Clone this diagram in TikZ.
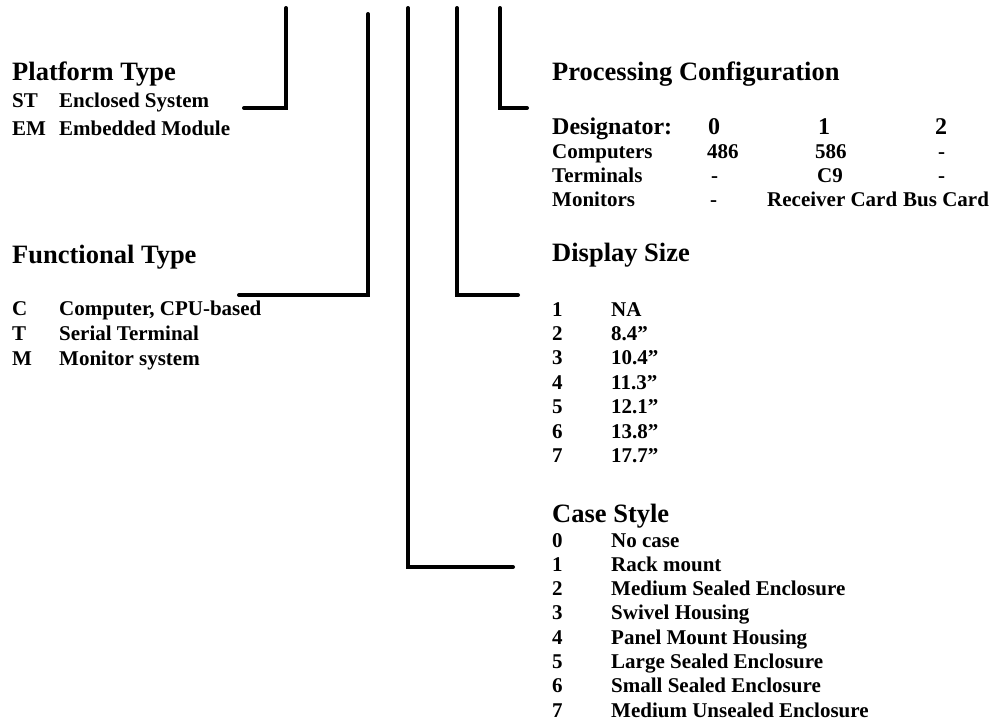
\documentclass[tikz,border=0pt]{standalone}
\usepackage{fontspec}
\setmainfont{Liberation Serif}
\newcommand{\dq}{\symbol{34}}
\begin{document}
\begin{tikzpicture}[x=1pt,y=-1pt,
  hdr/.style={anchor=base west,inner sep=0pt,font=\fontsize{26.5}{30}\selectfont\bfseries},
  des/.style={anchor=base west,inner sep=0pt,font=\fontsize{24}{28}\selectfont\bfseries},
  itm/.style={anchor=base west,inner sep=0pt,font=\fontsize{21}{24}\selectfont\bfseries},
  lead/.style={line width=4pt,line cap=round,line join=miter}]
\useasboundingbox (0,0) rectangle (1006,723);
% leader lines
\coordinate (t1) at (286,8);   \coordinate (e1) at (244,108);
\coordinate (t2) at (368,14);  \coordinate (e2) at (239,295);
\coordinate (t3) at (408,8);   \coordinate (e3) at (513,567);
\coordinate (t4) at (457,8);   \coordinate (e4) at (518,295);
\coordinate (t5) at (500,8);   \coordinate (e5) at (527,108);
\draw[lead] (t1) |- (e1);
\draw[lead] (t2) |- (e2);
\draw[lead] (t3) |- (e3);
\draw[lead] (t4) |- (e4);
\draw[lead] (t5) |- (e5);
% Platform Type
\node[hdr] (pt) at (12,80) {Platform Type};
\node[itm] (pt1a) at (12,107) {ST};
\node[itm] (pt1b) at (59,107) {Enclosed System};
\node[itm] (pt2a) at (12,135) {EM};
\node[itm] (pt2b) at (59,135) {Embedded Module};
% Functional Type
\node[hdr] (ft) at (12,263) {Functional Type};
\node[itm] (ft1a) at (12,315) {C};
\node[itm] (ft1b) at (59,315) {Computer, CPU-based};
\node[itm] (ft2a) at (12,340) {T};
\node[itm] (ft2b) at (59,340) {Serial Terminal};
\node[itm] (ft3a) at (12,365) {M};
\node[itm] (ft3b) at (59,365) {Monitor system};
% Processing Configuration
\node[hdr] (pc) at (552,80) {Processing Configuration};
\node[des] (d0) at (552,134) {Designator:};
\node[des] (d1) at (708,134) {0};
\node[des] (d2) at (818,134) {1};
\node[des] (d3) at (935,134) {2};
\node[itm] (c0) at (552,158) {Computers};
\node[itm] (c1) at (707,158) {486};
\node[itm] (c2) at (815,158) {586};
\node[itm] (c3) at (938,158) {-};
\node[itm] (r0) at (552,182) {Terminals};
\node[itm] (r1) at (711,182) {-};
\node[itm] (r2) at (817,182) {C9};
\node[itm] (r3) at (938,182) {-};
\node[itm] (m0) at (552,206) {Monitors};
\node[itm] (m1) at (710,206) {-};
\node[itm] (m2) at (767,206) {Receiver Card};
\node[itm] (m3) at (903,206) {Bus Card};
% Display Size
\node[hdr] (ds) at (552,261) {Display Size};
\foreach \n/\t [count=\i from 0] in {1/NA,2/8.4\dq,3/10.4\dq,4/11.3\dq,5/12.1\dq,6/13.8\dq,7/17.7\dq}{
  \node[itm] (dsn\i) at (552,316+24.4*\i) {\n};
  \node[itm] (dst\i) at (611,316+24.4*\i) {\t};
}
% Case Style
\node[hdr] (cs) at (552,522) {Case Style};
\foreach \n/\t [count=\i from 0] in {0/No case,1/Rack mount,2/Medium Sealed Enclosure,3/Swivel Housing,4/Panel Mount Housing,5/Large Sealed Enclosure,6/Small Sealed Enclosure,7/Medium Unsealed Enclosure}{
  \node[itm] (csn\i) at (552,547+24.3*\i) {\n};
  \node[itm] (cst\i) at (611,547+24.3*\i) {\t};
}
\end{tikzpicture}
\end{document}
